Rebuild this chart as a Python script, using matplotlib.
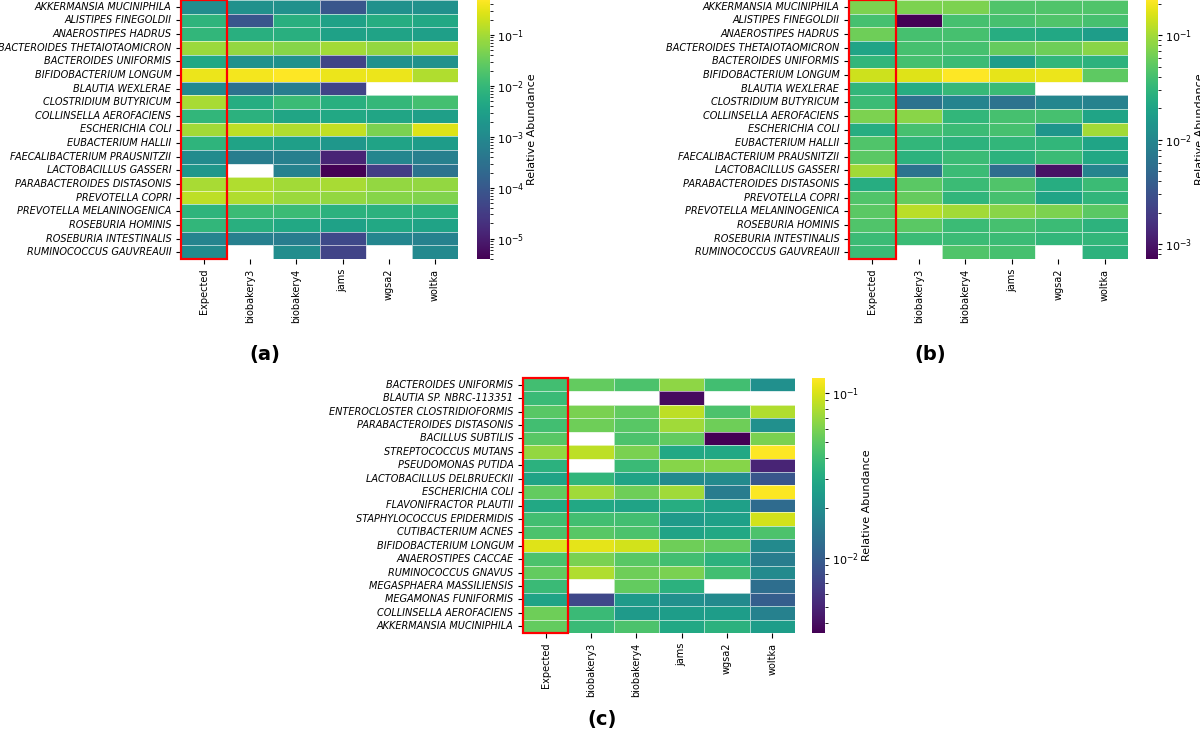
import numpy as np
import matplotlib
matplotlib.use('Agg')
import matplotlib.pyplot as plt
import seaborn as sns
from matplotlib.colors import LogNorm
from matplotlib.patches import Rectangle

nan = np.nan

tools = ['Expected', 'biobakery3', 'biobakery4', 'jams', 'wgsa2', 'woltka']

# panel (a)
species_a = ['AKKERMANSIA MUCINIPHILA', 'ALISTIPES FINEGOLDII', 'ANAEROSTIPES HADRUS',
             'BACTEROIDES THETAIOTAOMICRON', 'BACTEROIDES UNIFORMIS', 'BIFIDOBACTERIUM LONGUM',
             'BLAUTIA WEXLERAE', 'CLOSTRIDIUM BUTYRICUM', 'COLLINSELLA AEROFACIENS',
             'ESCHERICHIA COLI', 'EUBACTERIUM HALLII', 'FAECALIBACTERIUM PRAUSNITZII',
             'LACTOBACILLUS GASSERI', 'PARABACTEROIDES DISTASONIS', 'PREVOTELLA COPRI',
             'PREVOTELLA MELANINOGENICA', 'ROSEBURIA HOMINIS', 'ROSEBURIA INTESTINALIS',
             'RUMINOCOCCUS GAUVREAUII']
abund_a = [
    [1.2e-3, 1.4e-3, 1.4e-3, 9.4e-5, 1.4e-3, 1.4e-3],
    [8.1e-3, 9.4e-5, 6.4e-3, 3.2e-3, 5.7e-3, 4.5e-3],
    [9.1e-3, 6.4e-3, 6.4e-3, 3.2e-3, 3.6e-3, 2.8e-3],
    [8.5e-2, 7.5e-2, 5.9e-2, 9.5e-2, 7.5e-2, 0.107],
    [4.5e-3, 1.4e-3, 1.4e-3, 4.2e-5, 1.4e-3, 1.4e-3],
    [0.35, 0.39, 0.49, 0.35, 0.35, 0.12],
    [9.8e-4, 3.0e-4, 5.5e-4, 4.2e-5, nan, nan],
    [0.107, 5.7e-3, 1.2e-2, 6.4e-3, 1.0e-2, 1.5e-2],
    [9.1e-3, 7.2e-3, 4.0e-3, 4.5e-3, 4.0e-3, 2.8e-3],
    [9.5e-2, 0.15, 0.12, 0.17, 4.7e-2, 0.27],
    [8.1e-3, 3.6e-3, 2.8e-3, 2.0e-3, 3.6e-3, 2.5e-3],
    [1.1e-3, 5.5e-4, 6.2e-4, 1.3e-5, 8.7e-4, 6.2e-4],
    [2.0e-3, nan, 6.9e-4, 4.0e-6, 3.3e-5, 3.4e-4],
    [0.107, 0.12, 9.5e-2, 0.107, 7.5e-2, 7.5e-2],
    [0.15, 0.12, 8.5e-2, 7.5e-2, 5.9e-2, 5.3e-2],
    [8.1e-3, 1.2e-2, 1.2e-2, 7.2e-3, 7.2e-3, 6.4e-3],
    [9.1e-3, 6.4e-3, 4.5e-3, 3.2e-3, 4.5e-3, 3.6e-3],
    [7.8e-4, 6.2e-4, 5.5e-4, 5.2e-5, 8.7e-4, 6.9e-4],
    [1.1e-3, nan, 1.2e-3, 4.2e-5, nan, 9.8e-4],
]

# panel (b)
species_b = species_a
abund_b = [
    [7.0e-2, 7.0e-2, 7.0e-2, 4.5e-2, 4.5e-2, 4.5e-2],
    [4.0e-2, 7.2e-4, 4.0e-2, 4.0e-2, 4.5e-2, 4.0e-2],
    [6.2e-2, 4.0e-2, 4.0e-2, 2.5e-2, 2.2e-2, 1.7e-2],
    [2.0e-2, 4.0e-2, 4.0e-2, 5.6e-2, 6.2e-2, 7.8e-2],
    [3.1e-2, 4.0e-2, 3.5e-2, 1.7e-2, 3.1e-2, 2.8e-2],
    [0.14, 0.165, 0.217, 0.175, 0.185, 5.3e-2],
    [3.1e-2, 2.5e-2, 3.3e-2, 3.5e-2, nan, nan],
    [3.5e-2, 6.3e-3, 9.5e-3, 6.3e-3, 1.0e-2, 8.9e-3],
    [7.0e-2, 7.8e-2, 3.1e-2, 4.0e-2, 4.0e-2, 2.0e-2],
    [2.5e-2, 4.0e-2, 3.5e-2, 4.0e-2, 1.4e-2, 9.8e-2],
    [4.5e-2, 3.1e-2, 2.8e-2, 3.1e-2, 3.1e-2, 2.0e-2],
    [5.0e-2, 2.8e-2, 3.5e-2, 2.8e-2, 3.5e-2, 2.2e-2],
    [9.8e-2, 6.3e-3, 3.5e-2, 5.6e-3, 9.6e-4, 9.5e-3],
    [2.5e-2, 5.0e-2, 3.5e-2, 4.5e-2, 2.5e-2, 3.5e-2],
    [4.5e-2, 5.6e-2, 3.0e-2, 4.0e-2, 2.0e-2, 3.0e-2],
    [5.0e-2, 0.12, 9.8e-2, 7.8e-2, 7.0e-2, 5.0e-2],
    [4.5e-2, 5.0e-2, 3.5e-2, 4.0e-2, 3.5e-2, 2.8e-2],
    [3.5e-2, 3.5e-2, 3.5e-2, 3.5e-2, 3.1e-2, 3.1e-2],
    [3.5e-2, nan, 4.5e-2, 4.0e-2, nan, 2.8e-2],
]

# panel (c)
species_c = ['BACTEROIDES UNIFORMIS', 'BLAUTIA SP. NBRC-113351', 'ENTEROCLOSTER CLOSTRIDIOFORMIS',
             'PARABACTEROIDES DISTASONIS', 'BACILLUS SUBTILIS', 'STREPTOCOCCUS MUTANS',
             'PSEUDOMONAS PUTIDA', 'LACTOBACILLUS DELBRUECKII', 'ESCHERICHIA COLI',
             'FLAVONIFRACTOR PLAUTII', 'STAPHYLOCOCCUS EPIDERMIDIS', 'CUTIBACTERIUM ACNES',
             'BIFIDOBACTERIUM LONGUM', 'ANAEROSTIPES CACCAE', 'RUMINOCOCCUS GNAVUS',
             'MEGASPHAERA MASSILIENSIS', 'MEGAMONAS FUNIFORMIS', 'COLLINSELLA AEROFACIENS',
             'AKKERMANSIA MUCINIPHILA']
abund_c = [
    [4.2e-2, 5.2e-2, 4.5e-2, 6.7e-2, 4.2e-2, 2.07e-2],
    [3.9e-2, nan, nan, 3.9e-3, nan, nan],
    [4.9e-2, 6.0e-2, 5.2e-2, 8.6e-2, 4.5e-2, 8.0e-2],
    [4.2e-2, 5.6e-2, 4.9e-2, 7.4e-2, 5.6e-2, 2.07e-2],
    [4.9e-2, nan, 4.5e-2, 5.2e-2, 3.5e-3, 6.0e-2],
    [6.9e-2, 8.6e-2, 6.0e-2, 2.95e-2, 2.95e-2, 0.123],
    [3.4e-2, nan, 3.9e-2, 6.4e-2, 6.4e-2, 5.0e-3],
    [2.75e-2, 3.6e-2, 2.75e-2, 1.9e-2, 1.9e-2, 9.1e-3],
    [5.2e-2, 7.4e-2, 5.6e-2, 7.4e-2, 1.55e-2, 0.12],
    [2.95e-2, 2.95e-2, 2.75e-2, 3.2e-2, 2.6e-2, 1.2e-2],
    [4.2e-2, 4.2e-2, 4.2e-2, 2.4e-2, 2.6e-2, 9.6e-2],
    [4.5e-2, 4.9e-2, 4.5e-2, 2.75e-2, 2.95e-2, 4.5e-2],
    [0.103, 0.107, 9.6e-2, 5.6e-2, 5.2e-2, 1.9e-2],
    [4.5e-2, 6.0e-2, 4.9e-2, 4.2e-2, 3.4e-2, 1.55e-2],
    [5.2e-2, 8.0e-2, 5.6e-2, 6.0e-2, 4.2e-2, 1.9e-2],
    [3.9e-2, nan, 5.2e-2, 3.4e-2, nan, 1.25e-2],
    [2.75e-2, 7.6e-3, 2.4e-2, 2.07e-2, 1.9e-2, 1.0e-2],
    [5.6e-2, 3.9e-2, 2.4e-2, 2.5e-2, 2.5e-2, 1.66e-2],
    [5.2e-2, 3.9e-2, 4.5e-2, 2.95e-2, 3.4e-2, 2.5e-2],
]

W, H = 1200, 737


def px(x0, y0, x1, y1):
    # pixel box -> figure fraction rect
    return [x0 / W, 1 - y1 / H, (x1 - x0) / W, (y1 - y0) / H]


def draw(fig, data, species, hm_box, cb_box, tag, tag_xy):
    ax = fig.add_axes(px(*hm_box))
    cax = fig.add_axes(px(*cb_box))
    arr = np.array(data, dtype=float)
    norm = LogNorm(vmin=np.nanmin(arr), vmax=np.nanmax(arr))
    sns.heatmap(arr, ax=ax, cbar_ax=cax, cmap='viridis', norm=norm,
                linewidths=0.5, linecolor=(1, 1, 1, 0.6),
                xticklabels=tools, yticklabels=species,
                cbar_kws={'label': 'Relative Abundance'})
    ax.set_yticklabels(species, rotation=0, fontsize=7, style='italic')
    ax.set_xticklabels(tools, rotation=90, fontsize=7)
    cax.tick_params(which='major', labelsize=8, length=3, pad=2)
    cax.tick_params(which='minor', length=2)
    cax.yaxis.label.set_size(8)
    cax.yaxis.labelpad = 2
    ax.add_patch(Rectangle((0, 0), 1, len(species), fill=False,
                           edgecolor='red', lw=1.6, clip_on=False, zorder=5))
    fig.text(tag_xy[0] / W, 1 - tag_xy[1] / H, tag, fontsize=14,
             fontweight='bold', ha='center', va='center')


fig = plt.figure(figsize=(12, 7.37), dpi=100)
draw(fig, abund_a, species_a, (181, 0, 458, 259), (477, 0, 490, 259), '(a)', (265, 355))
draw(fig, abund_b, species_b, (849, 0, 1128, 259), (1146, 0, 1158, 259), '(b)', (930, 355))
draw(fig, abund_c, species_c, (523, 378, 795, 633), (812, 378, 825, 633), '(c)', (602, 720))
fig.savefig('out.png', dpi=100)
